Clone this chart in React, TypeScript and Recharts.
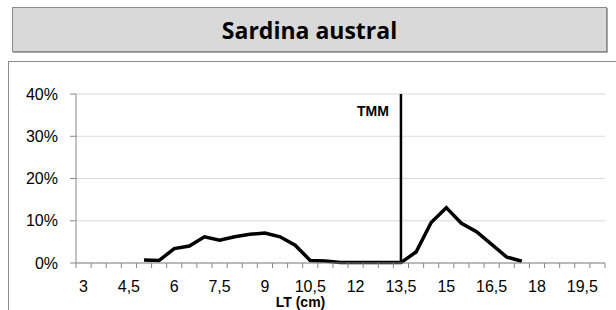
import React from "react";
import { CartesianGrid, ComposedChart, Line, ReferenceLine, XAxis, YAxis } from "recharts";

// size classes (cm) on the category axis
const categories = [3, 3.5, 4, 4.5, 5, 5.5, 6, 6.5, 7, 7.5, 8, 8.5, 9, 9.5, 10, 10.5, 11, 11.5, 12, 12.5, 13, 13.5, 14, 14.5, 15, 15.5, 16, 16.5, 17, 17.5, 18, 18.5, 19, 19.5, 20];
const labelTicks = [3, 4.5, 6, 7.5, 9, 10.5, 12, 13.5, 15, 16.5, 18, 19.5];
const yTicks = [0, 0.1, 0.2, 0.3, 0.4];

const lengths = [5, 5.5, 6, 6.5, 7, 7.5, 8, 8.5, 9, 9.5, 10, 10.5, 11, 11.5, 12, 12.5, 13, 13.5, 14, 14.5, 15, 15.5, 16, 16.5, 17, 17.5];
const freq = [0.007, 0.006, 0.034, 0.04, 0.062, 0.054, 0.062, 0.068, 0.071, 0.062, 0.042, 0.006, 0.005, 0.001, 0.001, 0.001, 0.001, 0.001, 0.026, 0.096, 0.131, 0.094, 0.074, 0.044, 0.014, 0.004];
const tmm = 13.5;

const data = lengths.map((lt, i) => ({ lt, pct: freq[i] }));
// tick marks sit between categories, like the original
const boundaries = [...categories.map((c) => c - 0.25), categories[categories.length - 1] + 0.25];
const domain = [boundaries[0], boundaries[boundaries.length - 1]];

const font = { fontFamily: "Liberation Sans, Arial, sans-serif", fontSize: 16, fill: "#000" };
const boldSmall = { fontFamily: "Liberation Sans, Arial, sans-serif", fontSize: 14, fontWeight: 700, fill: "#000" };

export default function App() {
  return (
    <div style={{ position: "absolute", left: 0, top: 0, width: 616, height: 310, overflow: "hidden", background: "#fff" }}>
      <div
        style={{
          position: "absolute",
          left: 12,
          top: 7,
          width: 593,
          height: 43,
          background: "#d9d9d9",
          border: "1px solid #8c8c8c",
          boxShadow: "1px 1px 0 #a6a6a6",
          display: "flex",
          alignItems: "center",
          justifyContent: "center",
          fontFamily: "Open Sans, sans-serif",
          fontWeight: 700,
          fontSize: 23,
          color: "#000",
        }}
      >
        Sardina austral
      </div>
      <div style={{ position: "absolute", left: 8, top: 61, width: 620, height: 260, border: "1px solid #8c8c8c" }} />
      <div style={{ position: "absolute", left: 0, top: 0 }}>
        <ComposedChart width={616} height={310} data={data} margin={{ top: 94, right: 11, bottom: 0, left: 0 }}>
          <CartesianGrid horizontal vertical={false} stroke="#d9d9d9" />
          <XAxis
            xAxisId="b"
            dataKey="lt"
            type="number"
            domain={domain}
            ticks={labelTicks}
            interval={0}
            height={46}
            axisLine={false}
            tickLine={false}
            tickSize={0}
            tickMargin={17}
            tick={font}
            tickFormatter={(v: number) => String(v).replace(".", ",")}
            label={{ value: "LT (cm)", position: "insideBottom", offset: 3, dx: -40, style: boldSmall }}
          />
          <XAxis
            xAxisId="a"
            dataKey="lt"
            type="number"
            domain={domain}
            ticks={boundaries}
            interval={0}
            tickFormatter={() => ""}
            tickSize={5}
            height={1}
            axisLine={{ stroke: "#888" }}
            tickLine={{ stroke: "#888" }}
          />
          <YAxis
            domain={[0, 0.4]}
            ticks={yTicks}
            width={76}
            tickSize={6}
            tickMargin={12}
            tick={font}
            axisLine={{ stroke: "#888" }}
            tickLine={{ stroke: "#888" }}
            tickFormatter={(v: number) => `${Math.round(v * 100)}%`}
          />
          <ReferenceLine
            xAxisId="a"
            x={tmm}
            stroke="#000"
            strokeWidth={2.5}
            label={{ value: "TMM", position: "insideTopRight", offset: 12, style: boldSmall }}
          />
          <Line xAxisId="a" dataKey="pct" type="linear" stroke="#000" strokeWidth={3.5} dot={false} isAnimationActive={false} />
        </ComposedChart>
      </div>
    </div>
  );
}
